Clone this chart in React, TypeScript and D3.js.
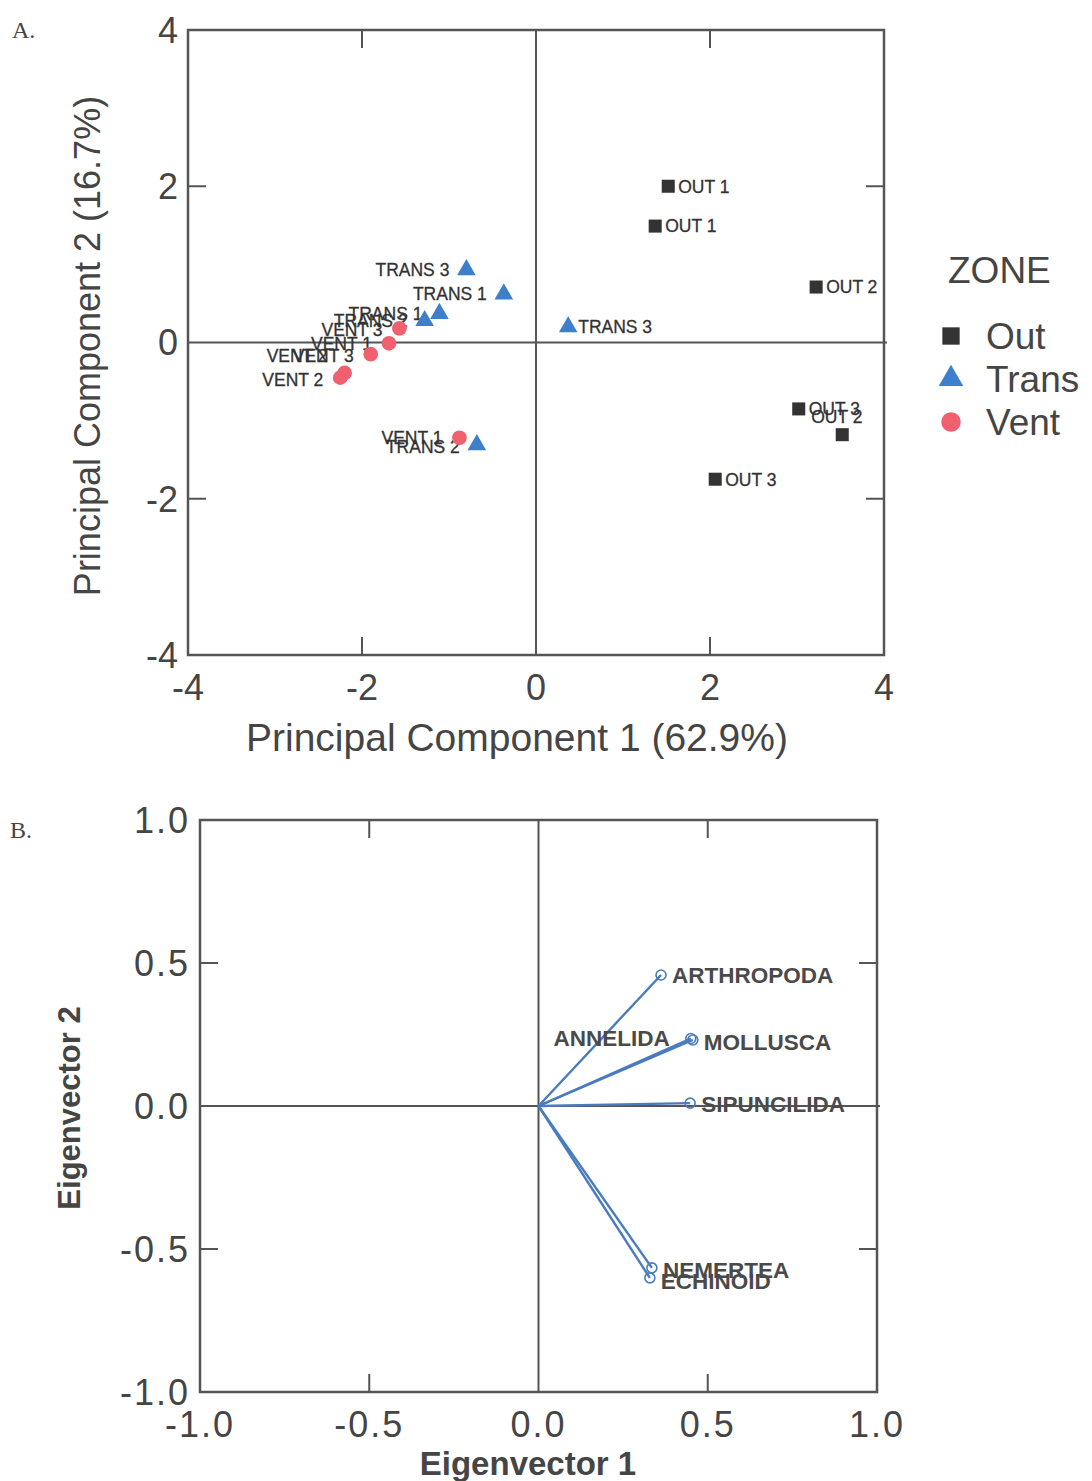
import React from "react";
import * as d3 from "d3";

// ---- panel A: PCA site scores
const outNames = ["OUT 1", "OUT 1", "OUT 2", "OUT 2", "OUT 3", "OUT 3"];
const outPc1 = [1.52, 1.37, 3.22, 3.52, 3.02, 2.06];
const outPc2 = [2.0, 1.49, 0.71, -1.18, -0.85, -1.75];

const transNames = ["TRANS 3", "TRANS 1", "TRANS 3", "TRANS 1", "TRANS 2", "TRANS 2"];
const transPc1 = [-0.8, -0.37, 0.37, -1.11, -1.28, -0.68];
const transPc2 = [0.93, 0.62, 0.2, 0.37, 0.28, -1.31];

const ventNames = ["VENT 3", "VENT 1", "VENT 3", "VENT 2", "VENT 2", "VENT 1"];
const ventPc1 = [-1.57, -1.69, -1.9, -2.25, -2.2, -0.88];
const ventPc2 = [0.18, -0.01, -0.15, -0.45, -0.39, -1.22];

const zones = ["Out", "Trans", "Vent"];
const pcTicks = [-4, -2, 0, 2, 4];

// ---- panel B: eigenvectors
const taxa = ["ARTHROPODA", "ANNELIDA", "MOLLUSCA", "SIPUNCILIDA", "NEMERTEA", "ECHINOID"];
const ev1 = [0.362, 0.45, 0.456, 0.448, 0.335, 0.329];
const ev2 = [0.458, 0.236, 0.231, 0.01, -0.566, -0.601];
const evTicks = [-1.0, -0.5, 0.0, 0.5, 1.0];

// label placement (side of the marker, extra shift) – layout, not data
const outLab = [["r", 0], ["r", 0], ["r", 0], ["x", 0], ["r", 0], ["r", 0]];
const transLab = [["l", 0], ["l", 0], ["r", 0], ["l", 0], ["l", 0], ["l", 2]];
const ventLab = [["l", 1], ["l", 0], ["l", 1], ["l", 2], ["l", -17], ["l", 0]];
const taxaLab = [["r", 0], ["l", -1], ["r", 2], ["r", 1], ["r", 2], ["r", 3]];

const colors: Record<string, string> = { Out: "#333333", Trans: "#3d7fcb", Vent: "#f0606e" };
const shapes: Record<string, d3.SymbolType> = {
  Out: d3.symbolSquare,
  Trans: d3.symbolTriangle,
  Vent: d3.symbolCircle,
};

const axisColor = "#555";
const textColor = "#454545";
const font = "'Liberation Sans', Arial, sans-serif";

function Frame({ x, y, ticks, fmt, tickFont, spacing = 0 }) {
  const [x0, x1] = x.range();
  const [y0, y1] = y.range();
  const tl = 18;
  const inner = ticks.slice(1, -1).filter((t) => t !== 0);
  return (
    <g>
      <rect x={x0} y={y1} width={x1 - x0} height={y0 - y1} fill="none" stroke={axisColor} strokeWidth={2.5} />
      <line x1={x0} x2={x1 + 3} y1={y(0)} y2={y(0)} stroke={axisColor} strokeWidth={2} />
      <line x1={x(0)} x2={x(0)} y1={y1} y2={y0} stroke={axisColor} strokeWidth={2} />
      {inner.map((t) => (
        <g key={t}>
          <line x1={x(t)} x2={x(t)} y1={y1} y2={y1 + tl} stroke={axisColor} strokeWidth={2} />
          <line x1={x(t)} x2={x(t)} y1={y0} y2={y0 - tl} stroke={axisColor} strokeWidth={2} />
          <line x1={x0} x2={x0 + tl} y1={y(t)} y2={y(t)} stroke={axisColor} strokeWidth={2} />
          <line x1={x1} x2={x1 - tl} y1={y(t)} y2={y(t)} stroke={axisColor} strokeWidth={2} />
        </g>
      ))}
      {ticks.map((t) => (
        <text key={"x" + t} x={x(t)} y={y0 + 45} textAnchor="middle" fontSize={tickFont} fill={textColor} fontFamily={font} letterSpacing={spacing}>
          {fmt(t)}
        </text>
      ))}
      {ticks.map((t) => (
        <text key={"y" + t} x={x0 - 10} y={y(t)} dy="0.36em" textAnchor="end" fontSize={tickFont} fill={textColor} fontFamily={font} letterSpacing={spacing}>
          {fmt(t)}
        </text>
      ))}
    </g>
  );
}

function PanelA() {
  const x = d3.scaleLinear().domain([-4, 4]).range([188, 884]);
  const y = d3.scaleLinear().domain([-4, 4]).range([655, 30]);
  const series = [
    { zone: "Out", names: outNames, a: outPc1, b: outPc2, lab: outLab },
    { zone: "Trans", names: transNames, a: transPc1, b: transPc2, lab: transLab },
    { zone: "Vent", names: ventNames, a: ventPc1, b: ventPc2, lab: ventLab },
  ];
  const sym = (z: string) => d3.symbol().type(shapes[z]).size(z === "Trans" ? 150 : 170)();
  return (
    <g>
      <Frame x={x} y={y} ticks={pcTicks} fmt={(t) => String(t)} tickFont={36} />
      {series.map((s) =>
        s.names.map((n, i) => {
          const px = x(s.a[i]);
          const py = y(s.b[i]);
          const [side, dy] = s.lab[i] as [string, number];
          let lx = px + 10;
          let anchor = "start";
          let ly = py + dy;
          if (side === "l") {
            lx = px - 17;
            anchor = "end";
          } else if (side === "x") {
            lx = px - 31;
            ly = py - 18;
          }
          return (
            <g key={s.zone + i}>
              <path d={sym(s.zone)} transform={`translate(${px},${py})`} fill={colors[s.zone]} />
              <text x={lx} y={ly} dy="0.36em" textAnchor={anchor} fontSize={17.5} fill="#333" stroke="#333" strokeWidth={0.3} fontFamily={font}>
                {n}
              </text>
            </g>
          );
        })
      )}
      <text x={12} y={38} fontSize={24} fontFamily="'Liberation Serif', serif" fill={textColor}>A.</text>
      <text x={517} y={751} textAnchor="middle" fontSize={39} fill={textColor} fontFamily={font}>
        Principal Component 1 (62.9%)
      </text>
      <text transform="translate(100,346) rotate(-90)" textAnchor="middle" fontSize={36} fill={textColor} fontFamily={font}>
        Principal Component 2 (16.7%)
      </text>
      <text x={948} y={283} fontSize={37} fill={textColor} fontFamily={font}>ZONE</text>
      {zones.map((z, i) => (
        <g key={z}>
          <path d={d3.symbol().type(shapes[z]).size(z === "Trans" ? 260 : 300)()} transform={`translate(951,${336 + i * 43})`} fill={colors[z]} />
          <text x={986} y={336 + i * 43} dy="0.36em" fontSize={37} fill={textColor} fontFamily={font}>{z}</text>
        </g>
      ))}
    </g>
  );
}

function PanelB() {
  const x = d3.scaleLinear().domain([-1, 1]).range([200, 877]);
  const y = d3.scaleLinear().domain([-1, 1]).range([1392, 820]);
  const lineColor = "#4a7bbf";
  const fmt = (t: number) => d3.format(".1f")(t).replace("\u2212", "-");
  return (
    <g>
      <Frame x={x} y={y} ticks={evTicks} fmt={fmt} tickFont={36} spacing={2} />
      {taxa.map((t, i) => {
        const px = x(ev1[i]);
        const py = y(ev2[i]);
        const [side, dy] = taxaLab[i] as [string, number];
        const left = side === "l";
        return (
          <g key={t}>
            <line x1={x(0)} y1={y(0)} x2={px} y2={py} stroke={lineColor} strokeWidth={2.4} />
            <circle cx={px} cy={py} r={5} fill="none" stroke={lineColor} strokeWidth={1.6} />
            <text
              x={left ? px - 21 : px + 11}
              y={py + dy}
              dy="0.36em"
              textAnchor={left ? "end" : "start"}
              fontSize={22.5}
              fontWeight="bold"
              fill="#4a4a4a"
              fontFamily={font}
            >
              {t}
            </text>
          </g>
        );
      })}
      <text x={10} y={838} fontSize={24} fontFamily="'Liberation Serif', serif" fill={textColor}>B.</text>
      <text x={528} y={1475} textAnchor="middle" fontSize={33} fontWeight="bold" fill={textColor} fontFamily={font}>
        Eigenvector 1
      </text>
      <text transform="translate(80,1108) rotate(-90)" textAnchor="middle" fontSize={31} fontWeight="bold" fill={textColor} fontFamily={font}>
        Eigenvector 2
      </text>
    </g>
  );
}

export default function App() {
  return (
    <svg width={1092} height={1481} style={{ position: "absolute", left: 0, top: 0, background: "#fff" }}>
      <PanelA />
      <PanelB />
    </svg>
  );
}
